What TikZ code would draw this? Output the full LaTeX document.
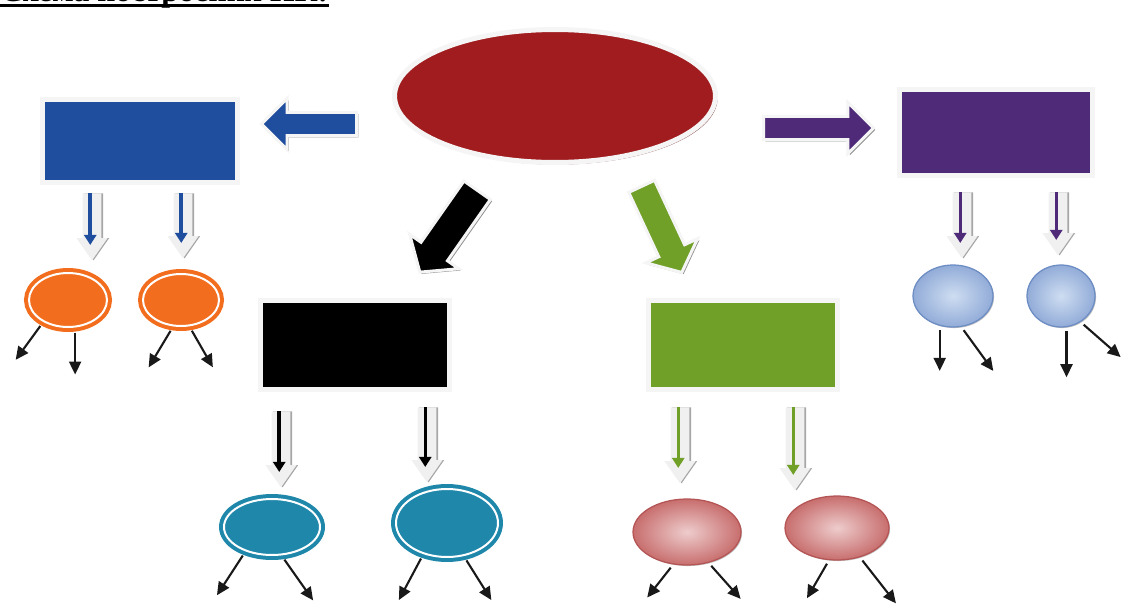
\documentclass[tikz,border=0pt]{standalone}
\usepackage{fontspec}
\setmainfont{Liberation Serif}
\usetikzlibrary{shapes.geometric,shapes.arrows,shadows,arrows.meta}

\definecolor{ovalred}{RGB}{160,28,30}
\definecolor{boxblue}{RGB}{31,78,159}
\definecolor{boxpurple}{RGB}{78,42,120}
\definecolor{boxgreen}{RGB}{112,160,40}
\definecolor{ringorange}{RGB}{242,110,30}
\definecolor{ringteal}{RGB}{30,135,170}
\definecolor{pinklight}{RGB}{238,204,204}
\definecolor{pinkdark}{RGB}{200,110,110}
\definecolor{pinkedge}{RGB}{180,84,84}
\definecolor{skylight}{RGB}{206,221,241}
\definecolor{skydark}{RGB}{146,172,216}
\definecolor{skyedge}{RGB}{108,140,196}

\tikzset{
    box/.style={rectangle, draw=gray!8, line width=0.1cm, minimum width=3.9cm, minimum height=1.66cm,
        drop shadow={shadow xshift=1.2pt, shadow yshift=-1.2pt, fill=black!55, opacity=.8}},
    bigarrow/.style={single arrow, anchor=tail, draw=gray!8, line width=0.06cm, inner sep=0pt,
        drop shadow={shadow xshift=1pt, shadow yshift=-1pt, fill=black!55, opacity=.8}},
    stripe/.style={single arrow, anchor=tail, rotate=-90, fill=gray!12, inner xsep=0pt, inner ysep=0.18cm,
        minimum width=0.62cm, single arrow tip angle=70, single arrow head extend=0.12cm,
        drop shadow={shadow xshift=0.9pt, shadow yshift=0pt, fill=gray!70, opacity=1}},
    stripeline/.style={line width=0.07cm, -{Triangle[length=0.2cm,width=0.24cm]}, shorten >=0.32cm},
    ring/.style={ellipse, inner sep=0pt, line width=0.08cm, double=white, double distance=0.04cm},
    ball/.style={ellipse, inner sep=0pt, line width=0.025cm,
        drop shadow={shadow xshift=0.6pt, shadow yshift=-0.6pt, fill=black!40, opacity=.6}},
    leg/.style={line width=0.042cm, -{Triangle[length=0.26cm,width=0.24cm]}, shorten <=0.08cm, black!90}
}

\begin{document}
\begin{tikzpicture}[x=0.02cm, y=-0.02cm]
    \useasboundingbox (0,0) rectangle (1121,605);

    % title, cut off at the top
    \node[anchor=base west, inner sep=0pt, font=\bfseries\fontsize{18}{21}\selectfont] (title) at (0,1.5) {Схема построения ИК:};
    \draw[line width=0.06cm] ([yshift=-2.3pt]title.base west) -- ([yshift=-2.3pt]title.base east);

    % centre and the four boxes
    \node[ellipse, fill=ovalred, draw=gray!8, line width=0.1cm, minimum width=6.42cm, minimum height=2.66cm,
        drop shadow={shadow xshift=1.2pt, shadow yshift=-1.2pt, fill=ovalred!60!black, opacity=.7}] (core) at (555,96) {};
    \node[box, fill=boxblue] (bluebox) at (140,141) {};
    \node[box, fill=boxpurple, minimum width=3.86cm, minimum height=1.72cm] (purplebox) at (996,132.5) {};
    \node[box, fill=black, minimum width=3.8cm, minimum height=1.78cm] (blackbox) at (355,345) {};
    \node[box, fill=boxgreen, minimum width=3.8cm, minimum height=1.78cm] (greenbox) at (743,345) {};

    % block arrows from the centre
    \node[bigarrow, fill=boxblue, rotate=180, inner ysep=0.18cm, minimum height=1.9cm, minimum width=1.02cm] (toblue) at (358,124) {};
    \node[bigarrow, fill=boxpurple, inner ysep=0.18cm, minimum height=2.2cm, minimum width=1.02cm] (topurple) at (762,128) {};
    \node[bigarrow, fill=black, rotate=-125, inner ysep=0.26cm, minimum height=2cm, minimum width=1.2cm,
        single arrow tip angle=100] (toblack) at (478,189) {};
    \node[bigarrow, fill=boxgreen, rotate=-65, inner ysep=0.22cm, minimum height=1.9cm, minimum width=1.14cm,
        single arrow tip angle=100] (togreen) at (641,185) {};

    % striped arrows under the boxes
    \node[stripe, minimum height=1.34cm] (sb1) at (92,193) {};
    \node[stripe, minimum height=1.3cm] (sb2) at (183,193) {};
    \node[stripe, minimum height=1.32cm] (sp1) at (962,192) {};
    \node[stripe, minimum height=1.26cm] (sp2) at (1058,192) {};
    \node[stripe, minimum height=1.52cm] (sk1) at (281,411) {};
    \node[stripe, minimum height=1.5cm] (sk2) at (427,407) {};
    \node[stripe, minimum height=1.52cm] (sg1) at (680,407) {};
    \node[stripe, minimum height=1.66cm] (sg2) at (795,407) {};
    \draw[stripeline, boxblue] ([xshift=-1pt]sb1.tail) -- ([xshift=-1pt]sb1.tip);
    \draw[stripeline, boxblue] ([xshift=-1pt]sb2.tail) -- ([xshift=-1pt]sb2.tip);
    \draw[stripeline, boxpurple] ([xshift=-1pt]sp1.tail) -- ([xshift=-1pt]sp1.tip);
    \draw[stripeline, boxpurple] ([xshift=-1pt]sp2.tail) -- ([xshift=-1pt]sp2.tip);
    \draw[stripeline, black] ([xshift=-1pt]sk1.tail) -- ([xshift=-1pt]sk1.tip);
    \draw[stripeline, black] ([xshift=-1pt]sk2.tail) -- ([xshift=-1pt]sk2.tip);
    \draw[stripeline, boxgreen] ([xshift=-1pt]sg1.tail) -- ([xshift=-1pt]sg1.tip);
    \draw[stripeline, boxgreen] ([xshift=-1pt]sg2.tail) -- ([xshift=-1pt]sg2.tip);

    % ovals
    \node[ring, draw=ringorange, fill=ringorange, minimum width=1.56cm, minimum height=1.08cm] (or1) at (68,300) {};
    \node[ring, draw=ringorange, fill=ringorange, minimum width=1.52cm, minimum height=1.04cm] (or2) at (181,300) {};
    \node[ring, draw=ringteal, fill=ringteal, minimum width=1.92cm, minimum height=1.12cm] (te1) at (272,527) {};
    \node[ring, draw=ringteal, fill=ringteal, minimum width=2.04cm, minimum height=1.36cm] (te2) at (447,523) {};
    \node[ball, draw=pinkedge, inner color=pinklight, outer color=pinkdark, minimum width=2.16cm, minimum height=1.32cm] (pk1) at (687,532) {};
    \node[ball, draw=pinkedge, inner color=pinklight, outer color=pinkdark, minimum width=2.08cm, minimum height=1.28cm] (pk2) at (837,528) {};
    \node[ball, draw=skyedge, inner color=skylight, outer color=skydark, minimum width=1.6cm, minimum height=1.24cm] (sk1b) at (953,296) {};
    \node[ball, draw=skyedge, inner color=skylight, outer color=skydark, minimum width=1.36cm, minimum height=1.24cm] (sk2b) at (1061,296) {};

    % small arrows out of the ovals
    \draw[leg] (or1.222) -- ++(-27,37);
    \draw[leg] (or1.284) -- ++(0,46);
    \draw[leg] (or2.253) -- ++(-24,40);
    \draw[leg] (or2.288) -- ++(23,40);
    \draw[leg] (te1.223) -- ++(-28,43);
    \draw[leg] (te1.289) -- ++(31,44);
    \draw[leg] (te2.233) -- ++(-24,45);
    \draw[leg] (te2.297) -- ++(27,43);
    \draw[leg] (pk1.247) -- ++(-26,33);
    \draw[leg] (pk1.305) -- ++(32,36);
    \draw[leg] (pk2.256) -- ++(-22,38);
    \draw[leg] (pk2.308) -- ++(36,46);
    \draw[leg] (sk1b.246) -- ++(0,45);
    \draw[leg] (sk1b.285) -- ++(32,44);
    \draw[leg] (sk2b.280) -- ++(0,50);
    \draw[leg] (sk2b.307) -- ++(40,35);
\end{tikzpicture}
\end{document}
